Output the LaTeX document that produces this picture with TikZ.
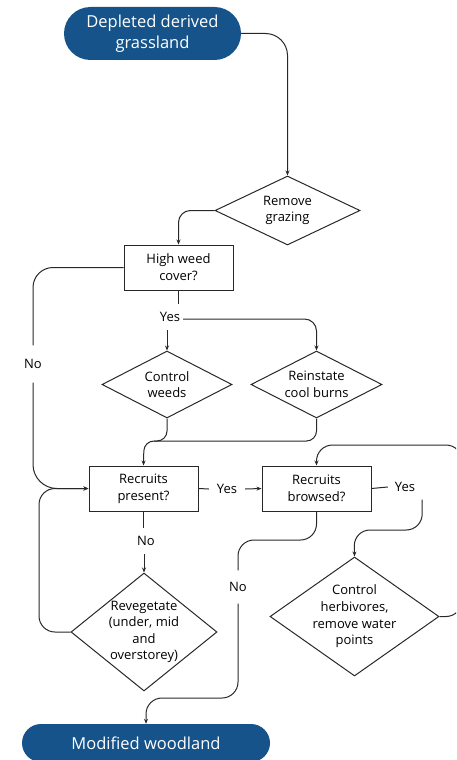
\documentclass[tikz,border=0pt]{standalone}
\usepackage{fontspec}
\setmainfont{Open Sans}
\usetikzlibrary{shapes.geometric,arrows.meta}
\definecolor{pillblue}{RGB}{21,83,138}
\definecolor{ln}{RGB}{40,40,40}
\begin{document}
\begin{tikzpicture}[x=1pt,y=-1pt,
 line/.style={draw=ln,line width=1pt},
 arr/.style={line,-{Stealth[length=5pt,width=4pt]}},
 pill/.style={fill=pillblue,text=white,font=\fontsize{16.5}{21}\selectfont,align=center,inner sep=0pt},
 box/.style={draw=ln,line width=1pt,minimum width=109pt,minimum height=45pt,inner sep=0pt,font=\fontsize{13}{17}\selectfont,align=center},
 dia/.style={draw=ln,line width=1pt,diamond,inner sep=0pt},
 txt/.style={font=\fontsize{13}{16.6}\selectfont,align=center,inner sep=1pt},
 lbl/.style={font=\fontsize{13}{17}\selectfont,inner sep=0pt,minimum height=25pt}]
\useasboundingbox (0,0) rectangle (456,760);
\clip (0,0) rectangle (456,760);
% nodes
\node[pill,minimum width=177pt,minimum height=53pt,rounded corners=26.5pt] (top) at (152.5,33.5) {Depleted derived\\grassland};
\node[dia,minimum width=145pt,minimum height=69pt] (rg) at (287.5,210.5) {};
\node[txt] (rgt) at (rg) {Remove\\grazing};
\node[box] (hw) at (178.5,267.5) {High weed\\cover?};
\node[lbl,minimum width=26pt] (yes1) at (170,317) {Yes};
\node[dia,minimum width=130pt,minimum height=67pt] (cw) at (167,384.5) {};
\node[txt] (cwt) at (cw) {Control\\weeds};
\node[dia,minimum width=131pt,minimum height=67pt] (rc) at (316.5,384.5) {};
\node[txt] (rct) at (rc) {Reinstate\\cool burns};
\node[lbl,minimum height=37pt] (noL) at (33,364) {No};
\node[box] (rp) at (143.5,488.5) {Recruits\\present?};
\node[box] (rb) at (316.5,488.5) {Recruits\\browsed?};
\node[lbl,minimum width=36pt] (yes2) at (227,489) {Yes};
\node[lbl,minimum width=34pt] (yes3) at (405,487) {Yes};
\node[lbl] (no2) at (146,541) {No};
\node[dia,minimum width=146pt,minimum height=118pt] (rv) at (144,632) {};
\node[txt] (rvt) at (rv) {Revegetate\\(under, mid\\and\\overstorey)};
\node[lbl,minimum height=33pt] (noR) at (238,587) {No};
\node[dia,minimum width=169pt,minimum height=119pt] (ch) at (354.5,616.5) {};
\node[txt] (cht) at (ch) {Control\\herbivores,\\remove water\\points};
\node[pill,minimum width=248pt,minimum height=38pt,rounded corners=19pt] (mw) at (146,743) {Modified woodland};
% coordinates
\coordinate (m1) at (144,441);
\coordinate (m2) at (154,441);
\coordinate (c3) at (354,530);
\coordinate (c4) at (462,445);
\coordinate (r1) at (238,540);
\coordinate (r2) at (146,698);
\coordinate (lv) at (39,560);
% connectors
\draw[arr,rounded corners=22pt] (top.east) -| (rg.north);
\draw[arr,rounded corners=12pt] (rg.west) -| (hw.north);
\draw[line,rounded corners=20pt] (hw.west) -| (noL.north);
\draw[arr,rounded corners=24pt] (noL.south) |- (rp.west);
\draw[line] (hw.south) -- (hw.south |- yes1.north);
\draw[arr] (cw.north |- yes1.south) -- (cw.north);
\draw[arr,rounded corners=12pt] ([yshift=-2pt]yes1.east) -| (rc.north);
\draw[arr,rounded corners=10pt] (rc.south) |- (m1) -- (rp.north);
\draw[line,rounded corners=10pt] (cw.south) |- (m2);
\draw[line] (rp.east) -- (yes2.west);
\draw[arr] (yes2.east) -- (rb.west);
\draw[line] (rb.east) -- (yes3.west);
\draw[arr,rounded corners=16pt] (yes3.south east) |- (c3) -- (ch.north);
\draw[arr,rounded corners=16pt] (ch.east) -| (c4) -| (rb.north);
\draw[line] (rp.south) -- (rp.south |- no2.north);
\draw[arr] (rv.north |- no2.south) -- (rv.north);
\draw[arr,rounded corners=16pt] (rv.west) -| (lv) |- (rp.west);
\draw[line,rounded corners=16pt] (rb.south) |- (r1) -- (noR.north);
\draw[arr,rounded corners=16pt] (noR.south) |- (r2) -- (mw.north);
\end{tikzpicture}
\end{document}
